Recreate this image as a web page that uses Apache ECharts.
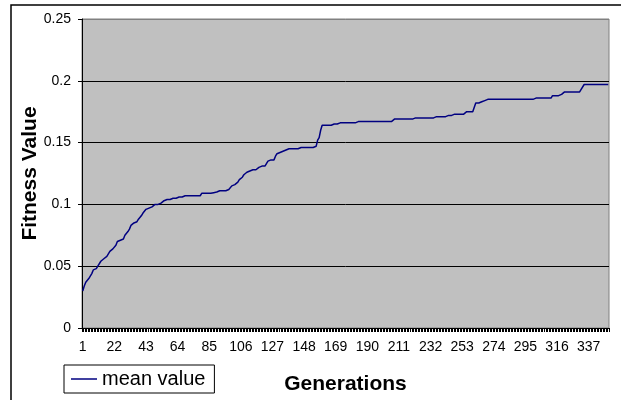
<!DOCTYPE html>
<html>
<head>
<meta charset="utf-8">
<title>mean value</title>
<script src="https://cdn.jsdelivr.net/npm/echarts@6/dist/echarts.min.js"></script>
<style>
	html, body {margin: 0; padding: 0; background: #fff;}
	#chart {width: 621px; height: 400px;}
</style>
</head>
<body>
<div id="chart"></div>
<script>
// generations 1..350
var generationCount = 350;
var generations = [];
for (var g = 1; g <= generationCount; g++) {
	generations.push(String(g));
}

// mean fitness per generation
var meanValue = [
	0.030, 0.034, 0.037, 0.038, 0.040, 0.042, 0.044, 0.047, 0.048, 0.048,
	0.050, 0.051, 0.054, 0.055, 0.056, 0.057, 0.058, 0.060, 0.062, 0.062,
	0.064, 0.065, 0.067, 0.070, 0.070, 0.071, 0.071, 0.072, 0.075, 0.076,
	0.078, 0.080, 0.083, 0.084, 0.085, 0.086, 0.086, 0.088, 0.089, 0.091,
	0.093, 0.094, 0.096, 0.096, 0.097, 0.098, 0.098, 0.099, 0.100, 0.100,
	0.100, 0.101, 0.101, 0.102, 0.103, 0.103, 0.104, 0.104, 0.104, 0.105,
	0.105, 0.105, 0.105, 0.106, 0.106, 0.106, 0.106, 0.106, 0.107, 0.107,
	0.107, 0.107, 0.107, 0.107, 0.107, 0.107, 0.107, 0.107, 0.107, 0.109,
	0.109, 0.109, 0.109, 0.109, 0.109, 0.109, 0.109, 0.1095, 0.1095, 0.110,
	0.111, 0.111, 0.111, 0.111, 0.111, 0.111, 0.112, 0.112, 0.113, 0.115,
	0.115, 0.116, 0.116, 0.118, 0.120, 0.121, 0.122, 0.124, 0.125, 0.126,
	0.127, 0.127, 0.128, 0.128, 0.128, 0.128, 0.129, 0.130, 0.131, 0.131,
	0.131, 0.131, 0.133, 0.135, 0.135, 0.136, 0.136, 0.136, 0.139, 0.141,
	0.141, 0.142, 0.142, 0.143, 0.144, 0.144, 0.144, 0.145, 0.145, 0.145,
	0.145, 0.145, 0.145, 0.145, 0.146, 0.146, 0.146, 0.146, 0.146, 0.146,
	0.146, 0.146, 0.146, 0.146, 0.147, 0.147, 0.152, 0.154, 0.160, 0.164,
	0.164, 0.164, 0.164, 0.164, 0.164, 0.164, 0.165, 0.165, 0.165, 0.165,
	0.165, 0.166, 0.166, 0.166, 0.166, 0.166, 0.166, 0.166, 0.166, 0.166,
	0.166, 0.166, 0.166, 0.167, 0.167, 0.167, 0.167, 0.167, 0.167, 0.167,
	0.167, 0.167, 0.167, 0.167, 0.167, 0.167, 0.167, 0.167, 0.167, 0.167,
	0.167, 0.167, 0.167, 0.167, 0.167, 0.167, 0.167, 0.169, 0.169, 0.169,
	0.169, 0.169, 0.169, 0.169, 0.169, 0.169, 0.169, 0.169, 0.169, 0.169,
	0.170, 0.170, 0.170, 0.170, 0.170, 0.170, 0.170, 0.170, 0.170, 0.170,
	0.170, 0.170, 0.170, 0.170, 0.170, 0.171, 0.171, 0.171, 0.171, 0.171,
	0.171, 0.171, 0.172, 0.172, 0.172, 0.172, 0.172, 0.173, 0.173, 0.173,
	0.173, 0.173, 0.173, 0.173, 0.173, 0.175, 0.175, 0.175, 0.175, 0.175,
	0.175, 0.182, 0.182, 0.182, 0.182, 0.183, 0.183, 0.184, 0.184, 0.185,
	0.185, 0.185, 0.185, 0.185, 0.185, 0.185, 0.185, 0.185, 0.185, 0.185,
	0.185, 0.185, 0.185, 0.185, 0.185, 0.185, 0.185, 0.185, 0.185, 0.185,
	0.185, 0.185, 0.185, 0.185, 0.185, 0.185, 0.185, 0.185, 0.185, 0.185,
	0.186, 0.186, 0.186, 0.186, 0.186, 0.186, 0.186, 0.186, 0.186, 0.186,
	0.186, 0.186, 0.188, 0.188, 0.188, 0.188, 0.188, 0.189, 0.189, 0.190,
	0.191, 0.191, 0.191, 0.191, 0.191, 0.191, 0.191, 0.191, 0.191, 0.191,
	0.191, 0.193, 0.193, 0.197, 0.197, 0.197, 0.197, 0.197, 0.197, 0.197,
	0.197, 0.197, 0.197, 0.197, 0.197, 0.197, 0.197, 0.197, 0.197, 0.197
];

var yTicks = [0, 0.05, 0.1, 0.15, 0.2, 0.25];

var fontName = '"Liberation Sans", Arial, sans-serif';
var myChart = echarts.init(document.getElementById('chart'), null, {renderer: 'canvas'});

var option = {
	backgroundColor: '#fff',
	animation: false,
	textStyle: {fontFamily: fontName},
	graphic: [{
		// chart area frame, runs off the right and bottom edges
		type: 'rect',
		shape: {x: 11, y: 5, width: 700, height: 500},
		style: {fill: null, stroke: '#000', lineWidth: 1.5},
		silent: true
	}],
	grid: {
		left: 82,
		top: 19,
		right: 12,
		bottom: 72,
		show: true,
		backgroundColor: '#c0c0c0',
		borderColor: '#808080',
		borderWidth: 1
	},
	legend: {
		left: 64,
		top: 365,
		data: [{name: 'mean value', icon: 'rect'}],
		itemWidth: 26,
		itemHeight: 1.5,
		itemGap: 5,
		padding: [4, 9, 4, 7],
		backgroundColor: '#fff',
		borderColor: '#000',
		borderWidth: 1,
		borderRadius: 0,
		textStyle: {fontSize: 20, color: '#000', fontFamily: fontName}
	},
	xAxis: {
		type: 'category',
		data: generations,
		boundaryGap: true,
		name: 'Generations',
		nameLocation: 'middle',
		nameGap: 46,
		nameTextStyle: {fontSize: 21, fontWeight: 'bold', color: '#000', fontFamily: fontName},
		axisLine: {lineStyle: {color: '#000', width: 1}},
		axisTick: {show: true, interval: 0, length: 4, lineStyle: {color: '#000', width: 1}},
		axisLabel: {interval: 20, margin: 12, fontSize: 14, color: '#000', fontFamily: fontName},
		splitLine: {show: false}
	},
	yAxis: {
		type: 'value',
		min: 0,
		max: 0.25,
		interval: 0.05,
		name: 'Fitness Value',
		nameLocation: 'middle',
		nameRotate: 90,
		nameGap: 41,
		nameMoveOverlap: false,
		nameTextStyle: {fontSize: 21, fontWeight: 'bold', color: '#000', fontFamily: fontName},
		axisLine: {show: true, lineStyle: {color: '#000', width: 1}},
		axisTick: {show: true, length: 4, lineStyle: {color: '#000'}},
		axisLabel: {
			margin: 11,
			fontSize: 14,
			color: '#000',
			fontFamily: fontName,
			formatter: function(v){
				var i = Math.round(v / 0.05);
				return yTicks[i] === undefined ? '' : String(yTicks[i]);
			}
		},
		splitLine: {
			show: true,
			lineStyle: {color: ['#000', '#000', '#000', '#000', '#000', '#808080'], width: 1}
		}
	},
	series: [{
		name: 'mean value',
		type: 'line',
		data: meanValue,
		symbol: 'none',
		smooth: false,
		lineStyle: {color: '#000080', width: 1.5},
		itemStyle: {color: '#000080'}
	}]
};

myChart.setOption(option);
</script>
</body>
</html>
